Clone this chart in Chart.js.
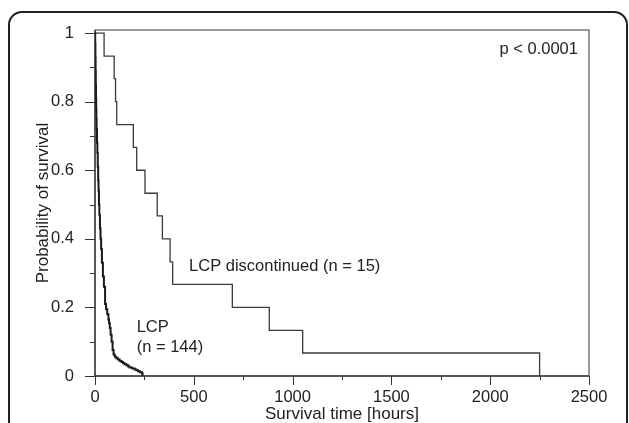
<!DOCTYPE html>
<html>
<head>
<meta charset="utf-8">
<script src="https://cdn.jsdelivr.net/npm/chart.js@4"></script>
<style>
  html, body { margin: 0; padding: 0; background: #fff; }
  #wrap { position: relative; width: 629px; height: 423px; overflow: hidden; }
  #frame { position: absolute; left: 8px; top: 11px; width: 616px; height: 460px;
           border: 2px solid #222; border-radius: 14px; }
  canvas { position: absolute; left: 0; top: 0; }
</style>
</head>
<body>
<div id="wrap">
  <div id="frame"></div>
  <canvas id="km" width="629" height="423"></canvas>
</div>
<script>
// LCP discontinued (n = 15): event times [hours] and survival after each step
const discTimes = [0, 46, 97, 104, 110, 194, 211, 253, 315, 341, 380, 393, 695, 882, 1051, 2250];
const discSurv  = [1, 0.933, 0.867, 0.8, 0.733, 0.667, 0.6, 0.533, 0.467, 0.4, 0.333, 0.267, 0.2, 0.133, 0.067, 0];

// LCP (n = 144)
const lcpTimes = [0, 1, 2, 3, 4, 5, 6, 7, 8, 10, 12, 14, 16, 18, 20, 22, 25, 28, 31, 35, 40, 45,
                  51, 56, 62, 68, 71, 75, 79, 84, 89, 94, 100, 108, 116, 125, 134, 142, 150, 159,
                  168, 175, 188, 201, 210, 218, 228, 238, 241];
const lcpSurv  = [1, 0.97, 0.93, 0.89, 0.85, 0.81, 0.78, 0.75, 0.72, 0.68, 0.65, 0.61, 0.57, 0.54, 0.50, 0.47, 0.43, 0.40, 0.37, 0.33, 0.29, 0.26,
                  0.21, 0.195, 0.18, 0.165, 0.154, 0.14, 0.12, 0.10, 0.076, 0.063, 0.056, 0.052, 0.048, 0.044, 0.041, 0.037, 0.034, 0.031,
                  0.028, 0.025, 0.022, 0.019, 0.017, 0.014, 0.011, 0.007, 0];

const xMajor = [0, 500, 1000, 1500, 2000, 2500];
const xMinor = [250, 750, 1250, 1750, 2250];
const yMajor = [0, 0.2, 0.4, 0.6, 0.8, 1];
const yMinor = [0.1, 0.3, 0.5, 0.7, 0.9];

const notes = [
    { text: 'p < 0.0001', x: 2444, y: 0.938, align: 'right' },
    { text: 'LCP discontinued (n = 15)', x: 476, y: 0.307, align: 'left' },
    { text: 'LCP', x: 211, y: 0.127, align: 'left' },
    { text: '(n = 144)', x: 211, y: 0.069, align: 'left' }
];

const FONT = '"Liberation Sans", Arial, sans-serif';
const toPoints = (xs, ys) => xs.map((t, i) => ({ x: t, y: ys[i] }));

// ticks, frame and in-plot labels
const decorations = {
    id: 'decorations',
    afterDatasetsDraw(chart) {
        const ctx = chart.ctx;
        const xs = chart.scales.x, ys = chart.scales.y;
        const a = chart.chartArea;
        ctx.save();

        // grey top and right frame
        ctx.strokeStyle = '#7a7a7a';
        ctx.lineWidth = 1.5;
        ctx.beginPath();
        ctx.moveTo(a.left, a.top);
        ctx.lineTo(a.right, a.top);
        ctx.lineTo(a.right, a.bottom);
        ctx.stroke();

        // axes
        ctx.strokeStyle = '#222';
        ctx.lineWidth = 1.5;
        ctx.beginPath();
        ctx.moveTo(a.left, a.top);
        ctx.lineTo(a.left, a.bottom);
        ctx.lineTo(a.right, a.bottom);
        ctx.stroke();

        ctx.lineWidth = 1;
        ctx.strokeStyle = '#333';
        ctx.beginPath();
        yMajor.forEach(v => { const p = Math.round(ys.getPixelForValue(v)) + 0.5; ctx.moveTo(a.left - 10, p); ctx.lineTo(a.left, p); });
        yMinor.forEach(v => { const p = Math.round(ys.getPixelForValue(v)) + 0.5; ctx.moveTo(a.left - 5, p); ctx.lineTo(a.left, p); });
        xMajor.forEach(v => { const p = Math.round(xs.getPixelForValue(v)) + 0.5; ctx.moveTo(p, a.bottom); ctx.lineTo(p, a.bottom + 9); });
        xMinor.forEach(v => { const p = Math.round(xs.getPixelForValue(v)) + 0.5; ctx.moveTo(p, a.bottom); ctx.lineTo(p, a.bottom + 4); });
        ctx.stroke();

        ctx.fillStyle = '#222';
        ctx.font = '16.5px ' + FONT;
        ctx.textBaseline = 'alphabetic';
        notes.forEach(n => {
            ctx.textAlign = n.align;
            ctx.fillText(n.text, xs.getPixelForValue(n.x), ys.getPixelForValue(n.y));
        });
        ctx.restore();
    }
};

new Chart(document.getElementById('km'), {
    type: 'line',
    data: {
        datasets: [
            {
                label: 'LCP discontinued (n = 15)',
                data: toPoints(discTimes, discSurv),
                stepped: 'before',
                borderColor: '#3a3a3a',
                borderWidth: 1.3,
                pointRadius: 0,
                fill: false
            },
            {
                label: 'LCP (n = 144)',
                data: toPoints(lcpTimes, lcpSurv),
                stepped: 'before',
                borderColor: '#1a1a1a',
                borderWidth: 2,
                pointRadius: 0,
                fill: false
            }
        ]
    },
    options: {
        responsive: false,
        animation: false,
        events: [],
        layout: { padding: { left: 0, right: 40, top: 30, bottom: 0 } },
        plugins: { legend: { display: false }, tooltip: { enabled: false } },
        scales: {
            x: {
                type: 'linear',
                min: 0,
                max: 2500,
                grid: { display: false },
                border: { display: false },
                afterBuildTicks: s => { s.ticks = xMajor.map(v => ({ value: v })); },
                afterFit: s => { s.height = 47; },
                ticks: {
                    padding: 4,
                    color: '#222',
                    font: { family: FONT, size: 16.5 },
                    maxRotation: 0,
                    callback: v => String(v)
                },
                title: {
                    display: true,
                    text: 'Survival time [hours]',
                    color: '#222',
                    font: { family: FONT, size: 17 },
                    padding: { top: 0, bottom: -2 }
                }
            },
            y: {
                type: 'linear',
                min: 0,
                max: 1.009,
                grid: { display: false },
                border: { display: false },
                afterBuildTicks: s => { s.ticks = yMajor.map(v => ({ value: v })); },
                afterFit: s => { s.width = 95; },
                ticks: {
                    padding: 13,
                    color: '#222',
                    font: { family: FONT, size: 16.5 },
                    callback: v => String(+v.toFixed(1))
                },
                title: {
                    display: true,
                    text: 'Probability of survival',
                    color: '#222',
                    font: { family: FONT, size: 17 },
                    padding: { top: 33, bottom: 0 }
                }
            }
        }
    },
    plugins: [decorations]
});
</script>
</body>
</html>
